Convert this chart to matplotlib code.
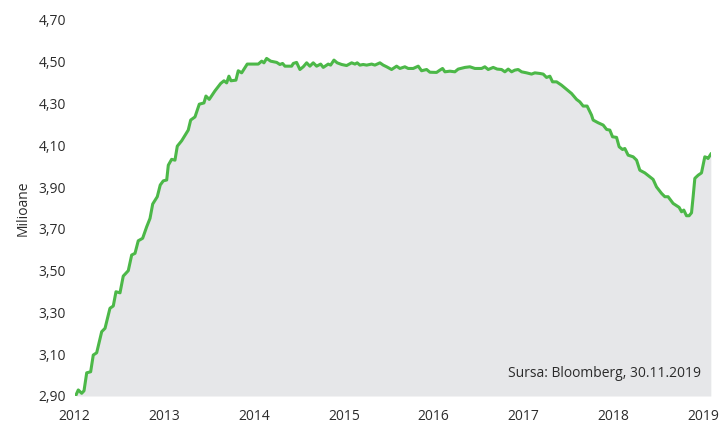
import matplotlib
matplotlib.use("Agg")
import matplotlib.pyplot as plt
from matplotlib.ticker import FuncFormatter

plt.rcParams['font.family'] = ['Open Sans', 'DejaVu Sans']

years = [2012.017, 2012.042, 2012.080, 2012.106, 2012.136, 2012.180, 2012.209, 2012.247,
         2012.303, 2012.340, 2012.395, 2012.432, 2012.462, 2012.507, 2012.543, 2012.599,
         2012.637, 2012.674, 2012.710, 2012.759, 2012.804, 2012.841, 2012.871, 2012.922,
         2012.955, 2012.989, 2013.027, 2013.045, 2013.082, 2013.119, 2013.145, 2013.194,
         2013.267, 2013.294, 2013.342, 2013.390, 2013.442, 2013.464, 2013.501, 2013.565,
         2013.628, 2013.665, 2013.695, 2013.720, 2013.743, 2013.798, 2013.824, 2013.862,
         2013.924, 2014.047, 2014.085, 2014.110, 2014.140, 2014.185, 2014.252, 2014.288,
         2014.318, 2014.344, 2014.419, 2014.437, 2014.474, 2014.511, 2014.548, 2014.586,
         2014.622, 2014.659, 2014.697, 2014.742, 2014.771, 2014.826, 2014.853, 2014.890,
         2014.926, 2014.976, 2015.031, 2015.087, 2015.124, 2015.149, 2015.179, 2015.216,
         2015.254, 2015.310, 2015.346, 2015.402, 2015.439, 2015.477, 2015.532, 2015.588,
         2015.625, 2015.680, 2015.717, 2015.773, 2015.829, 2015.866, 2015.922, 2015.959,
         2016.033, 2016.070, 2016.100, 2016.126, 2016.181, 2016.237, 2016.274, 2016.349,
         2016.404, 2016.460, 2016.535, 2016.571, 2016.608, 2016.664, 2016.708, 2016.757,
         2016.794, 2016.831, 2016.869, 2016.905, 2016.942, 2016.980, 2017.036, 2017.091,
         2017.128, 2017.184, 2017.221, 2017.258, 2017.295, 2017.325, 2017.370, 2017.425,
         2017.481, 2017.537, 2017.592, 2017.629, 2017.666, 2017.710, 2017.759, 2017.777,
         2017.833, 2017.889, 2017.927, 2017.963, 2017.993, 2018.038, 2018.067, 2018.105,
         2018.130, 2018.167, 2018.223, 2018.261, 2018.297, 2018.353, 2018.409, 2018.445,
         2018.483, 2018.539, 2018.576, 2018.612, 2018.668, 2018.735, 2018.762, 2018.787,
         2018.817, 2018.846, 2018.873, 2018.891, 2018.910, 2018.947, 2018.984, 2019.021,
         2019.040, 2019.057, 2019.088]

values = [2.905, 2.929, 2.913, 2.925, 3.011, 3.016, 3.096, 3.107,
          3.208, 3.224, 3.320, 3.331, 3.399, 3.394, 3.474, 3.500,
          3.575, 3.583, 3.643, 3.655, 3.710, 3.750, 3.819, 3.854,
          3.910, 3.930, 3.934, 4.005, 4.033, 4.029, 4.096, 4.122,
          4.173, 4.221, 4.236, 4.297, 4.303, 4.336, 4.320, 4.361,
          4.396, 4.409, 4.399, 4.431, 4.409, 4.412, 4.457, 4.447,
          4.489, 4.489, 4.503, 4.495, 4.516, 4.503, 4.497, 4.487,
          4.492, 4.479, 4.479, 4.492, 4.497, 4.463, 4.476, 4.495,
          4.479, 4.495, 4.479, 4.489, 4.473, 4.489, 4.484, 4.508,
          4.495, 4.487, 4.482, 4.495, 4.489, 4.495, 4.484, 4.487,
          4.484, 4.489, 4.484, 4.495, 4.484, 4.476, 4.463, 4.479,
          4.468, 4.476, 4.468, 4.468, 4.479, 4.457, 4.463, 4.450,
          4.449, 4.460, 4.468, 4.452, 4.455, 4.452, 4.465, 4.473,
          4.476, 4.468, 4.468, 4.476, 4.463, 4.473, 4.465, 4.463,
          4.452, 4.465, 4.452, 4.460, 4.463, 4.452, 4.447, 4.441,
          4.447, 4.444, 4.441, 4.425, 4.431, 4.404, 4.404, 4.388,
          4.368, 4.348, 4.320, 4.308, 4.288, 4.288, 4.245, 4.221,
          4.208, 4.197, 4.176, 4.173, 4.141, 4.138, 4.093, 4.080,
          4.085, 4.053, 4.045, 4.029, 3.981, 3.968, 3.949, 3.937,
          3.901, 3.870, 3.854, 3.854, 3.822, 3.803, 3.782, 3.790,
          3.763, 3.763, 3.777, 3.854, 3.942, 3.957, 3.968, 4.045,
          4.042, 4.037, 4.058]

x_ticks = [2012, 2013, 2014, 2015, 2016, 2017, 2018, 2019]
y_ticks = [2.90, 3.10, 3.30, 3.50, 3.70, 3.90, 4.10, 4.30, 4.50, 4.70]

fig = plt.figure(figsize=(7.27, 4.23), dpi=100)
ax = fig.add_axes([74.5 / 727, 27 / 423, (711 - 74.5) / 727, (396 - 20) / 423])

ax.fill_between(years, values, 2.90, color='#e6e7e9', linewidth=0, zorder=1)
ax.plot(years, values, color='#4cb848', linewidth=2.2, zorder=3, solid_joinstyle='round')

ax.set_xlim(2012, 2019.09)
ax.set_ylim(2.90, 4.70)
ax.set_xticks(x_ticks)
ax.set_xticklabels([str(t) for t in x_ticks])
ax.set_yticks(y_ticks)
ax.yaxis.set_major_formatter(FuncFormatter(lambda v, p: f"{v:.2f}".replace('.', ',')))

for s in ax.spines.values():
    s.set_visible(False)
ax.tick_params(axis='both', length=0, labelsize=10, colors='#2b2b2b')
ax.tick_params(axis='x', pad=9)
ax.tick_params(axis='y', pad=6)
ax.patch.set_alpha(0)

ax.set_ylabel('Milioane', fontsize=10, color='#2b2b2b', labelpad=6)

ax.text(0.985, 0.04, 'Sursa: Bloomberg, 30.11.2019', transform=ax.transAxes,
        ha='right', va='bottom', fontsize=10, color='#2b2b2b')

fig.savefig('out.png', dpi=100, facecolor='white')
